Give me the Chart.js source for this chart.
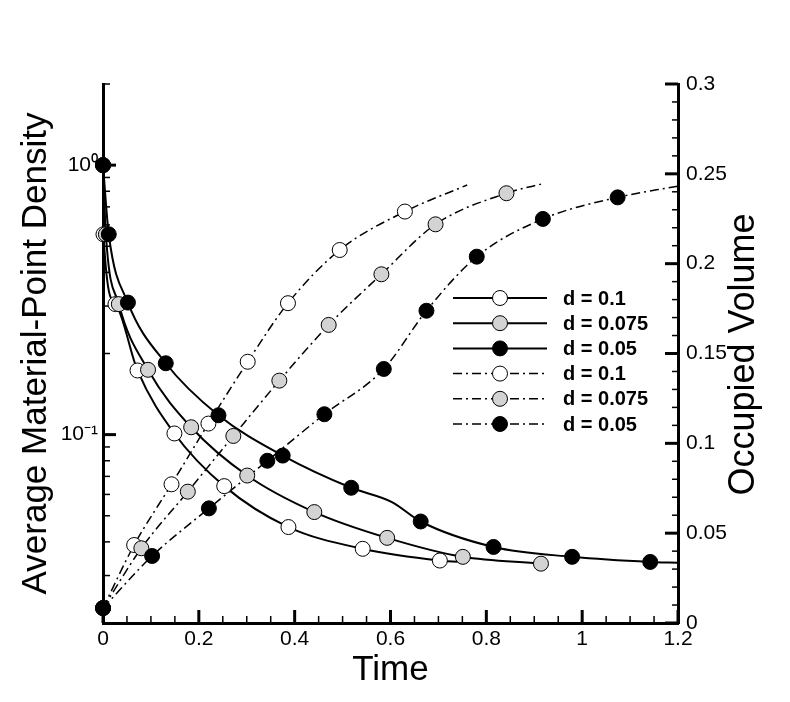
<!DOCTYPE html>
<html>
<head>
  <script src="https://cdn.jsdelivr.net/npm/chart.js"></script>
  <title>Material-Point Density and Occupied Volume</title>
  <style>
    body { margin: 0; background: #fff; }
    #wrap { width: 790px; height: 702px; }
  </style>
</head>
<body>
  <div id="wrap"><canvas id="chart"></canvas></div>

  <script>
    // series names (particle spacing d)
    const seriesNames = ['d = 0.1', 'd = 0.075', 'd = 0.05'];

    // Average material-point density (left log axis), marked points
    const densTime01 = [0, 0.001, 0.026, 0.072, 0.149, 0.253, 0.387, 0.542, 0.703];
    const densVal01 = [1.0, 0.554, 0.305, 0.173, 0.101, 0.0644, 0.0454, 0.0377, 0.0341];
    const densTime0075 = [0, 0.006, 0.033, 0.094, 0.184, 0.301, 0.441, 0.593, 0.751, 0.914];
    const densVal0075 = [1.0, 0.554, 0.305, 0.174, 0.1065, 0.0705, 0.0516, 0.0414, 0.0352, 0.0332];
    const densTime005 = [0, 0.012, 0.052, 0.131, 0.241, 0.375, 0.518, 0.663, 0.815, 0.979, 1.142];
    const densVal005 = [1.0, 0.554, 0.309, 0.184, 0.118, 0.0836, 0.0635, 0.0476, 0.0383, 0.0352, 0.0337];
    // unmarked points on the density curves
    const densLineTime01 = [0.76];
    const densLineVal01 = [0.0336];
    const densLineTime0075 = [];
    const densLineVal0075 = [];
    const densLineTime005 = [0.603, 1.2];
    const densLineVal005 = [0.0562, 0.0335];

    // Occupied volume (right axis), marked points
    const volTime01 = [0, 0.065, 0.143, 0.220, 0.302, 0.386, 0.494, 0.630];
    const volVal01 = [0.0083, 0.0434, 0.0772, 0.111, 0.1454, 0.178, 0.2076, 0.229];
    const volTime0075 = [0, 0.080, 0.177, 0.272, 0.368, 0.471, 0.581, 0.694, 0.842];
    const volVal0075 = [0.0083, 0.0416, 0.0731, 0.1041, 0.1349, 0.1659, 0.1941, 0.2219, 0.2392];
    const volTime005 = [0, 0.1025, 0.221, 0.343, 0.462, 0.586, 0.675, 0.780, 0.918, 1.074];
    const volVal005 = [0.0083, 0.0373, 0.0638, 0.0903, 0.1162, 0.1414, 0.1738, 0.2039, 0.2249, 0.2369];
    // unmarked end points of the volume curves
    const volLineTime01 = [0.76];
    const volLineVal01 = [0.2438];
    const volLineTime0075 = [0.9205];
    const volLineVal0075 = [0.2447];
    const volLineTime005 = [1.2];
    const volLineVal005 = [0.2432];

    // axis ranges and tick labels
    const timeRange = [0, 1.2];
    const timeMinorStep = 0.05;
    const timeLabelStep = 0.2;
    const densRange = [0.02, 2];
    const densDecadeLabels = { '0.1': '10\u207B\u00B9', '1': '10\u2070' };
    const volRange = [0, 0.3];
    const volMinorStep = 0.01;
    const volLabelStep = 0.05;

    const FONT = '"Liberation Sans", Arial, sans-serif';
    const fills = ['#ffffff', '#d3d3d3', '#000000'];
    const dashDot = [9, 4, 2, 4];

    function toPoints(ts, vs) {
      return ts.map((t, i) => ({ x: t, y: vs[i] }));
    }
    function curve(ts, vs, extraT, extraV) {
      return toPoints(ts.concat(extraT), vs.concat(extraV)).sort((a, b) => a.x - b.x);
    }
    function isMultiple(v, step) {
      const r = v / step;
      return Math.abs(r - Math.round(r)) < 1e-6;
    }

    const densMarks = [toPoints(densTime01, densVal01), toPoints(densTime0075, densVal0075), toPoints(densTime005, densVal005)];
    const densCurves = [
      curve(densTime01, densVal01, densLineTime01, densLineVal01),
      curve(densTime0075, densVal0075, densLineTime0075, densLineVal0075),
      curve(densTime005, densVal005, densLineTime005, densLineVal005)
    ];
    const volMarks = [toPoints(volTime01, volVal01), toPoints(volTime0075, volVal0075), toPoints(volTime005, volVal005)];
    const volCurves = [
      curve(volTime01, volVal01, volLineTime01, volLineVal01),
      curve(volTime0075, volVal0075, volLineTime0075, volLineVal0075),
      curve(volTime005, volVal005, volLineTime005, volLineVal005)
    ];

    const datasets = [];
    // legend entries in drawing order of the legend box
    const legendItems = [];
    [0, 1, 2].forEach(i => {
      datasets.push({
        label: seriesNames[i] + ' density line', data: densCurves[i], yAxisID: 'y',
        borderColor: '#000', borderWidth: 2, pointRadius: 0, cubicInterpolationMode: 'monotone',
        fill: false, clip: false, order: 20 + i
      });
      datasets.push({
        label: seriesNames[i] + ' volume line', data: volCurves[i], yAxisID: 'y2',
        borderColor: '#000', borderWidth: 1.5, borderDash: dashDot, pointRadius: 0,
        cubicInterpolationMode: 'monotone', fill: false, clip: false, order: 30 + i
      });
      datasets.push({
        label: seriesNames[i], data: densMarks[i], yAxisID: 'y', showLine: false,
        pointRadius: 7.5, pointBackgroundColor: fills[i], pointBorderColor: '#000',
        pointBorderWidth: 1, clip: false, order: 10 - i
      });
      datasets.push({
        label: seriesNames[i], data: volMarks[i], yAxisID: 'y2', showLine: false,
        pointRadius: 7.5, pointBackgroundColor: fills[i], pointBorderColor: '#000',
        pointBorderWidth: 1, clip: false, order: 10 - i
      });
    });
    seriesNames.forEach((n, i) => legendItems.push({ text: n, fill: fills[i], dash: [], width: 2 }));
    seriesNames.forEach((n, i) => legendItems.push({ text: n, fill: fills[i], dash: dashDot, width: 1.5 }));

    // tick values built from the ranges above
    const timeTicks = [];
    for (let i = 0; i <= Math.round((timeRange[1] - timeRange[0]) / timeMinorStep); i++) timeTicks.push(i * timeMinorStep);
    const densTicks = [];
    [0.01, 0.1, 1].forEach(dec => {
      for (let m = 1; m <= 9; m++) {
        const v = +(m * dec).toPrecision(3);
        if (v >= densRange[0] - 1e-9 && v <= densRange[1] + 1e-9) densTicks.push(v);
      }
    });
    const volTicks = [];
    for (let i = 0; i <= Math.round((volRange[1] - volRange[0]) / volMinorStep); i++) volTicks.push(i * volMinorStep);

    // inward tick marks, drawn under the markers
    const inwardTicks = {
      id: 'inwardTicks',
      beforeDatasetsDraw(chart) {
        const { ctx, chartArea: a, scales } = chart;
        ctx.save();
        ctx.strokeStyle = '#000';
        const mark = (x1, y1, x2, y2, w) => {
          ctx.lineWidth = w;
          ctx.beginPath(); ctx.moveTo(x1, y1); ctx.lineTo(x2, y2); ctx.stroke();
        };
        scales.x.ticks.forEach(tk => {
          const px = scales.x.getPixelForValue(tk.value);
          const major = isMultiple(tk.value, timeLabelStep);
          mark(px, a.bottom, px, a.bottom - (major ? 13 : 7), major ? 3 : 1.5);
        });
        scales.y.ticks.forEach(tk => {
          const py = scales.y.getPixelForValue(tk.value);
          const lg = Math.log10(tk.value);
          const major = Math.abs(lg - Math.round(lg)) < 1e-6;
          mark(a.left, py, a.left + (major ? 13 : 7), py, major ? 3 : 1.5);
        });
        scales.y2.ticks.forEach(tk => {
          const py = scales.y2.getPixelForValue(tk.value);
          const major = isMultiple(tk.value, volLabelStep);
          mark(a.right, py, a.right - (major ? 13 : 6), py, major ? 3 : 1.5);
        });
        ctx.restore();
      }
    };

    // legend box with line sample and marker in the middle
    const lineLegend = {
      id: 'lineLegend',
      afterDraw(chart) {
        const ctx = chart.ctx;
        ctx.save();
        legendItems.forEach((it, i) => {
          const y = 298 + i * 25.2;
          ctx.strokeStyle = '#000';
          ctx.lineWidth = it.width;
          ctx.setLineDash(it.dash);
          ctx.beginPath(); ctx.moveTo(453, y); ctx.lineTo(547, y); ctx.stroke();
          ctx.setLineDash([]);
          ctx.beginPath(); ctx.arc(500, y, 7.5, 0, Math.PI * 2);
          ctx.fillStyle = it.fill; ctx.fill();
          ctx.lineWidth = 1; ctx.stroke();
          ctx.fillStyle = '#000';
          ctx.font = 'bold 20px ' + FONT;
          ctx.textAlign = 'left'; ctx.textBaseline = 'middle';
          ctx.fillText(it.text, 563, y + 1);
        });
        ctx.restore();
      }
    };

    // right axis title reads bottom to top
    const rightTitle = {
      id: 'rightTitle',
      afterDraw(chart) {
        const { ctx, chartArea: a } = chart;
        ctx.save();
        ctx.translate(744, (a.top + a.bottom) / 2 + 1);
        ctx.rotate(-Math.PI / 2);
        ctx.font = '36px ' + FONT;
        ctx.fillStyle = '#000';
        ctx.textAlign = 'center'; ctx.textBaseline = 'middle';
        ctx.fillText('Occupied Volume', 0, 0);
        ctx.restore();
      }
    };

    Chart.defaults.font.family = FONT;
    Chart.defaults.color = '#000';

    new Chart(document.getElementById('chart'), {
      type: 'line',
      data: { datasets: datasets },
      options: {
        responsive: true,
        maintainAspectRatio: false,
        animation: false,
        layout: { padding: { top: 84, left: 0, right: 0, bottom: 0 } },
        plugins: { legend: { display: false }, tooltip: { enabled: false } },
        scales: {
          x: {
            type: 'linear', min: timeRange[0], max: timeRange[1],
            grid: { display: false, drawTicks: false },
            border: { display: true, color: '#000', width: 3 },
            afterBuildTicks: s => { s.ticks = timeTicks.map(v => ({ value: v })); },
            afterFit: s => { s.height = 79; },
            ticks: {
              autoSkip: false, maxRotation: 0, padding: 4, font: { size: 21 },
              callback: v => isMultiple(v, timeLabelStep) ? String(+v.toFixed(1)) : ''
            },
            title: { display: true, text: 'Time', font: { size: 35 }, padding: { top: 0, bottom: 11 } }
          },
          y: {
            type: 'logarithmic', position: 'left', min: densRange[0], max: densRange[1],
            grid: { display: false, drawTicks: false },
            border: { display: true, color: '#000', width: 3 },
            afterBuildTicks: s => { s.ticks = densTicks.map(v => ({ value: v })); },
            afterFit: s => { s.width = 103; },
            ticks: {
              autoSkip: false, padding: 5, font: { size: 21 },
              callback: v => densDecadeLabels[String(+v.toPrecision(3))] || ''
            },
            title: { display: true, text: 'Average Material-Point Density', font: { size: 35 }, padding: { top: 15, bottom: 0 } }
          },
          y2: {
            type: 'linear', position: 'right', min: volRange[0], max: volRange[1],
            grid: { display: false, drawTicks: false },
            border: { display: true, color: '#000', width: 3 },
            afterBuildTicks: s => { s.ticks = volTicks.map(v => ({ value: v })); },
            afterFit: s => { s.width = 112; },
            ticks: {
              autoSkip: false, padding: 8, font: { size: 21 },
              callback: v => isMultiple(v, volLabelStep) ? String(+v.toFixed(2)) : ''
            }
          }
        }
      },
      plugins: [inwardTicks, lineLegend, rightTitle]
    });
  </script>
</body>
</html>
